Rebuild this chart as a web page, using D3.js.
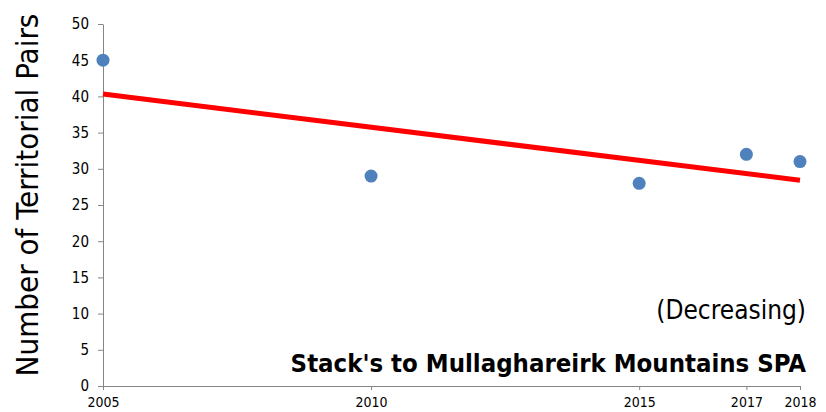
<!DOCTYPE html>
<html>
<head>
<meta charset="utf-8">
<script src="https://cdn.jsdelivr.net/npm/d3@7"></script>
<style>
  body { margin: 0; background: #fff; }
  text { font-family: "DejaVu Sans Condensed", "DejaVu Sans", sans-serif; fill: #000; }
  .axis path, .axis line { stroke: #868686; }
</style>
</head>
<body>
<div id="chart"></div>
<script>
// data
let years = [2005, 2010, 2015, 2017, 2018];
let pairs = [45, 29, 28, 32, 31];
let xTicks = [2005, 2010, 2015, 2017, 2018];
let yTicks = [0, 5, 10, 15, 20, 25, 30, 35, 40, 45, 50];

let W = 826, H = 412;

let svg = d3.select("#chart")
    .append("svg")
    .attr("width", W)
    .attr("height", H);

// scales
let x = d3.scaleLinear().domain([2005, 2018]).range([103, 800]);
let y = d3.scaleLinear().domain([0, 50]).range([386, 24]);

// y axis
svg.append("g")
    .attr("class", "axis")
    .attr("transform", "translate(103,0)")
    .call(d3.axisLeft(y).tickValues(yTicks).tickSize(5).tickSizeOuter(0).tickPadding(9))
    .call(g => g.selectAll("text").style("font-size", "15px").style("font-family", "DejaVu Sans Condensed"));

// x axis
svg.append("g")
    .attr("class", "axis")
    .attr("transform", "translate(0,386)")
    .call(d3.axisBottom(x).tickValues(xTicks).tickFormat(d3.format("d")).tickSize(4).tickSizeOuter(0).tickPadding(7))
    .call(g => g.selectAll("text").style("font-size", "14px").style("font-family", "DejaVu Sans Condensed"));

// linear trend (least squares)
let mx = d3.mean(years), my = d3.mean(pairs);
let slope = d3.sum(years, (d, i) => (d - mx) * (pairs[i] - my)) / d3.sum(years, d => (d - mx) * (d - mx));
let icpt = my - slope * mx;
let ends = [2005, 2018];

svg.append("line")
    .attr("x1", x(ends[0])).attr("y1", y(icpt + slope * ends[0]))
    .attr("x2", x(ends[1])).attr("y2", y(icpt + slope * ends[1]))
    .attr("stroke", "#ff0000")
    .attr("stroke-width", 5);

// points
svg.append("g")
    .selectAll("circle")
    .data(years)
    .enter()
    .append("circle")
    .attr("cx", d => x(d))
    .attr("cy", (d, i) => y(pairs[i]))
    .attr("r", 6.5)
    .attr("fill", "#4f81bd");

// y title
svg.append("text")
    .attr("transform", "translate(38,195) rotate(-90)")
    .attr("text-anchor", "middle")
    .style("font-size", "31px")
    .text("Number of Territorial Pairs");

// notes
svg.append("text")
    .attr("x", 806).attr("y", 319)
    .attr("text-anchor", "end")
    .style("font-size", "26px")
    .text("(Decreasing)");

svg.append("text")
    .attr("x", 806).attr("y", 372)
    .attr("text-anchor", "end")
    .style("font-size", "25.5px")
    .style("font-weight", "bold")
    .text("Stack's to Mullaghareirk Mountains SPA");
</script>
</body>
</html>
